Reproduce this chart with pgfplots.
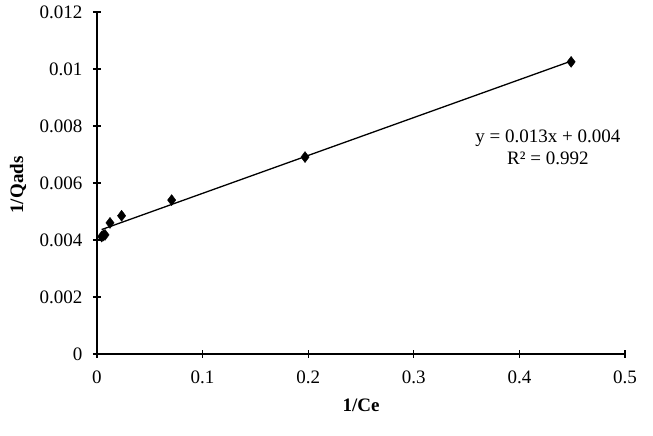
\documentclass[border=0pt]{standalone}
\usepackage{pgfplots}
\pgfplotsset{compat=1.18}
\usepackage{fontspec}
\setmainfont{Liberation Serif}
\begin{document}
\begin{tikzpicture}[x=1pt,y=1pt]
\begin{axis}[
  at={(0,0)}, anchor=origin,
  scale only axis,
  width=528pt, height=342pt,
  xmin=0, xmax=0.5, ymin=0, ymax=0.012,
  axis x line*=bottom, axis y line*=left,
  axis line style={line width=1.2pt, -},
  scaled y ticks=false, scaled x ticks=false,
  xtick={0,0.1,0.2,0.3,0.4,0.5},
  xticklabels={0,0.1,0.2,0.3,0.4,0.5},
  ytick={0,0.002,0.004,0.006,0.008,0.01,0.012},
  yticklabels={0,0.002,0.004,0.006,0.008,0.01,0.012},
  tick align=center,
  major tick length=8pt,
  tick style={line width=1.2pt, black},
  ticklabel style={font=\fontsize{19}{22}\selectfont},
  xticklabel style={yshift=-9pt},
  yticklabel style={xshift=-7pt},
  clip=false,
]
\addplot[only marks, mark=diamond*, mark size=5.5pt, black] coordinates {
  (0.0044,0.00412) (0.0060,0.00416) (0.0076,0.00418) (0.0123,0.0046)
  (0.0233,0.00485) (0.0707,0.0054) (0.197,0.00691) (0.449,0.01025)
};
\addplot[black, line width=1.3pt] coordinates {(0.0044,0.004366) (0.449,0.010277)};
\node[align=center, font=\fontsize{19}{22}\selectfont] at (axis cs:0.427,0.00725)
  {y = 0.013x + 0.004\\R² = 0.992};
\end{axis}
\node[font=\fontsize{19}{22}\selectfont\bfseries] at (264pt,-51pt) {1/Ce};
\node[font=\fontsize{19}{22}\selectfont\bfseries, rotate=90] at (-79pt,169pt) {1/Qads};
\pgfresetboundingbox
\useasboundingbox (-97pt,-82pt) rectangle (556pt,354pt);
\end{tikzpicture}
\end{document}
